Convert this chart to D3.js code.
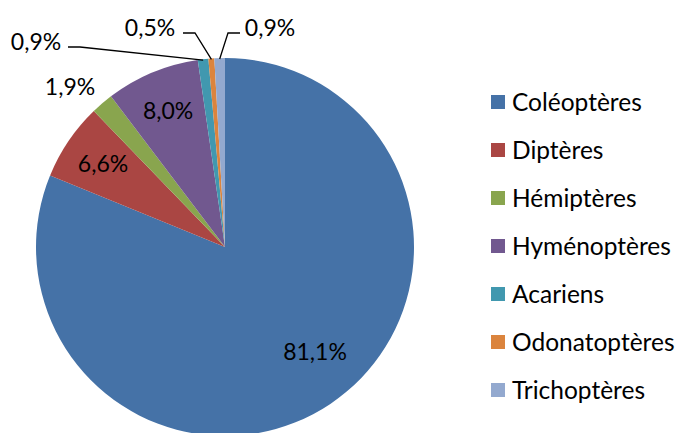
<!DOCTYPE html>
<html>
<head>
<meta charset="utf-8">
<script src="https://cdn.jsdelivr.net/npm/d3@7"></script>
<style>
  body { margin: 0; background: #fff; }
  text { font-family: Lato, "Open Sans", sans-serif; fill: #000; }
</style>
</head>
<body>
<svg id="chart" width="677" height="433"></svg>
<script>
// ---- data
var categories = ["Coléoptères", "Diptères", "Hémiptères", "Hyménoptères", "Acariens", "Odonatoptères", "Trichoptères"];
var values = [81.1, 6.6, 1.9, 8.0, 0.9, 0.5, 0.9];
var valueLabels = ["81,1%", "6,6%", "1,9%", "8,0%", "0,9%", "0,5%", "0,9%"];
var colors = ["#4572A7", "#AA4643", "#89A54E", "#71588F", "#4198AF", "#DB843D", "#93A9CF"];

// ---- sizes
var cx = 225, cy = 247, radius = 189;
var fontSize = 23, legendFont = 24.5;

var svg = d3.select("#chart");
var data = categories.map(function(c, i) { return {name: c, value: values[i], label: valueLabels[i], color: colors[i]}; });

var pie = d3.pie().sort(null).value(d => d.value);
var arcs = pie(data);
var arc = d3.arc().innerRadius(0).outerRadius(radius);

var g = svg.append("g").attr("transform", "translate(" + cx + "," + cy + ")");

g.selectAll(".slice")
  .data(arcs)
  .enter().append("path")
    .attr("class", "slice")
    .attr("d", arc)
    .style("fill", d => d.data.color);

// ---- labels
// inner labels on a ring, small slices outside with leader lines
var labelArc = d3.arc().innerRadius(radius * 0.78).outerRadius(radius * 0.78);
var edgeArc = d3.arc().innerRadius(radius).outerRadius(radius);

// label placement relative to the pie centre for the ones Excel moved
var labelSpots = [
  {i: 0, pos: [90, 105]},
  {i: 2, pos: [-155, -160]},
  {i: 4, pos: [-189, -205], leader: [-157, -200], dir: 1},
  {i: 5, pos: [-75, -219], leader: [-42, -214], dir: 1},
  {i: 6, pos: [45, -219], leader: [15, -214], dir: -1}
];

arcs.forEach(function(d, i) {
  var spot = labelSpots.find(s => s.i === i);
  var p = spot ? spot.pos : labelArc.centroid(d);

  if (spot && spot.leader) {
    var e = edgeArc.centroid(d);
    var lx = spot.leader[0], ly = spot.leader[1];
    var pts = [[lx, ly], [lx + 12 * spot.dir, ly], [e[0] * 0.995, e[1] * 0.995]];
    g.append("path")
      .attr("d", d3.line()(pts))
      .style("fill", "none")
      .style("stroke", "#000")
      .style("stroke-width", 1.3);
  }

  g.append("text")
    .attr("x", p[0])
    .attr("y", p[1])
    .attr("dy", "0.35em")
    .style("text-anchor", "middle")
    .style("font-size", fontSize + "px")
    .text(d.data.label);
});

// ---- legend
var legend = svg.append("g").attr("transform", "translate(491,102)");
var rowH = 48;
var items = legend.selectAll(".leg")
  .data(data)
  .enter().append("g")
    .attr("class", "leg")
    .attr("transform", (d, i) => "translate(0," + i * rowH + ")");
items.append("rect")
  .attr("x", 0).attr("y", -7)
  .attr("width", 14).attr("height", 14)
  .style("fill", d => d.color);
items.append("text")
  .attr("x", 21).attr("y", 0)
  .attr("dy", "0.35em")
  .style("font-size", legendFont + "px")
  .text(d => d.name);
</script>
</body>
</html>
